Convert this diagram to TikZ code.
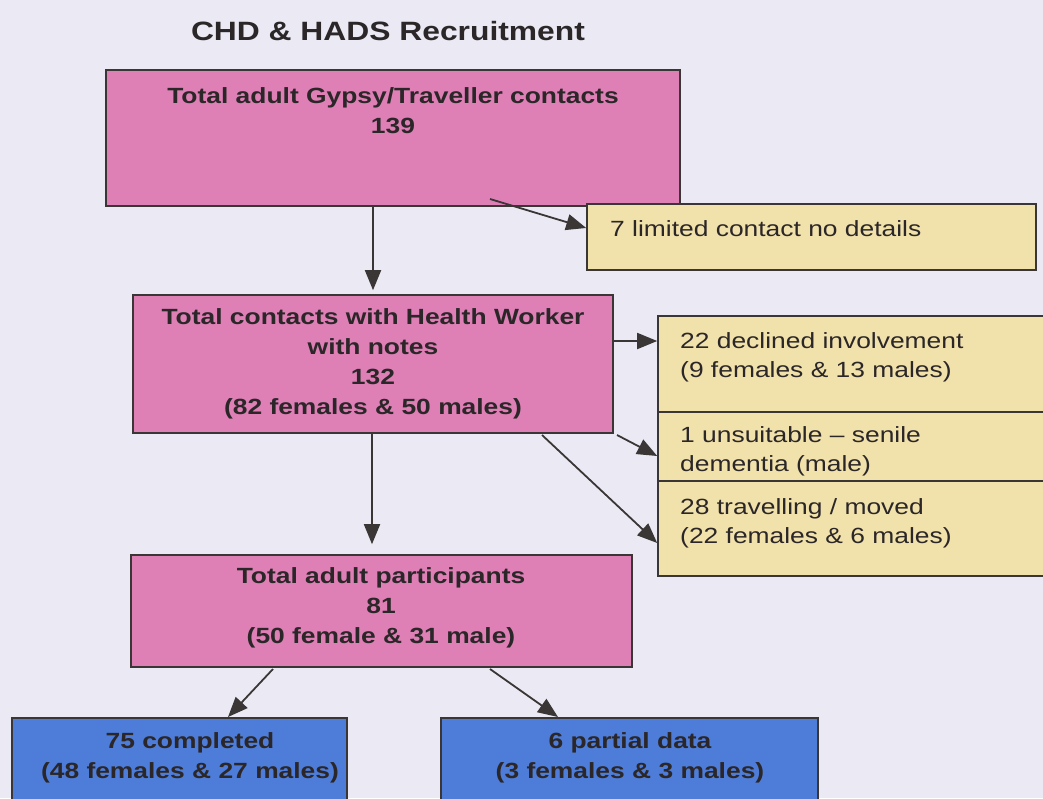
\documentclass[tikz,border=0pt]{standalone}
\usepackage{fontspec}
\setmainfont{Liberation Sans}
\newfontfamily\widefont[FakeStretch=1.2,Ligatures=TeX]{Liberation Sans}
\usetikzlibrary{arrows.meta,calc}
\definecolor{bg}{HTML}{EBE9F3}
\definecolor{pinkf}{HTML}{DE7FB6}
\definecolor{yellf}{HTML}{F1E1AA}
\definecolor{bluef}{HTML}{4D7DD8}
\definecolor{edge}{HTML}{3A3636}
\definecolor{ink}{HTML}{2B2628}
\tikzset{
  box/.style={draw=edge, line width=1.6pt, inner sep=0pt, text=ink},
  pinkbox/.style={box, fill=pinkf},
  yellbox/.style={box, fill=yellf},
  bluebox/.style={box, fill=bluef},
  btxt/.style={inner sep=0pt, text=ink, align=center, font=\widefont\fontsize{22}{30}\selectfont\bfseries},
  ytxt/.style={inner sep=0pt, text=ink, align=left, anchor=west, font=\widefont\fontsize{22}{29}\selectfont},
  conn/.style={draw=edge, line width=1.8pt, -{Triangle[length=20pt,width=16pt]}}
}
\begin{document}
\begin{tikzpicture}[x=1pt,y=-1pt]
\useasboundingbox[fill=bg] (0,0) rectangle (1043,798);
\node[font=\widefont\fontsize{26.5}{32}\selectfont\bfseries, text=ink, inner sep=0pt] (title) at (388,31) {CHD \& HADS Recruitment};
% boxes
\node[pinkbox, minimum width=574pt, minimum height=136pt] (b1) at (393,138) {};
\node[yellbox, minimum width=449pt, minimum height=66pt] (b2) at (811.5,237) {};
\node[pinkbox, minimum width=480pt, minimum height=138pt] (b3) at (373,364) {};
\node[yellbox, minimum width=392pt, minimum height=96pt] (y1) at (854,364) {};
\node[yellbox, minimum width=392pt, minimum height=69pt] (y2) at (854,446.5) {};
\node[yellbox, minimum width=392pt, minimum height=95pt] (y3) at (854,528.5) {};
\node[pinkbox, minimum width=501pt, minimum height=112pt] (b5) at (381.5,611) {};
\node[bluebox, minimum width=335pt, minimum height=92pt] (b6) at (179.5,764) {};
\node[bluebox, minimum width=377pt, minimum height=92pt] (b7) at (629.5,764) {};
% texts
\node[btxt] (t1) at (393,111) {Total adult Gypsy/Traveller contacts\\139};
\node[ytxt] (t2) at (610,229) {7 limited contact no details};
\node[btxt] (t3) at (373,363.5) {Total contacts with Health Worker\\with notes\\132\\(82 females \& 50 males)};
\node[ytxt] (ty1) at (680,357) {22 declined involvement\\(9 females \& 13 males)};
\node[ytxt] (ty2) at (680,451.5) {1 unsuitable – senile\\dementia (male)};
\node[ytxt] (ty3) at (680,523) {28 travelling / moved\\(22 females \& 6 males)};
\node[btxt] (t5) at (381,608) {Total adult participants\\81\\(50 female \& 31 male)};
\node[btxt] (t6) at (190,758) {75 completed\\(48 females \& 27 males)};
\node[btxt] (t7) at (630,758) {6 partial data\\(3 females \& 3 males)};
% connector anchor points
\coordinate (s12) at (490,199);
\coordinate (e12) at (b2.west |- 0,228);
\coordinate (s3a) at (b3.east |- 0,341);
\coordinate (s3b) at (617,435);
\coordinate (e3b) at (y1.west |- 0,456);
\coordinate (s3c) at (542,435);
\coordinate (e3c) at (y1.west |- 0,543);
\coordinate (s5a) at (273,669);
\coordinate (e5a) at (228,717);
\coordinate (s5b) at (490,669);
\coordinate (e5b) at (558,717);
% connectors
\draw[conn] (s12) -- (e12);
\draw[conn, shorten >=4pt] (b1.south -| b3.north) -- (b3.north);
\draw[conn] (s3a) -- (s3a -| y1.west);
\draw[conn] (s3b) -- (e3b);
\draw[conn] (s3c) -- (e3c);
\draw[conn, shorten >=10pt] (b3.south -| 372,0) -- (b5.north -| 372,0);
\draw[conn] (s5a) -- (e5a);
\draw[conn] (s5b) -- (e5b);
\end{tikzpicture}
\end{document}
